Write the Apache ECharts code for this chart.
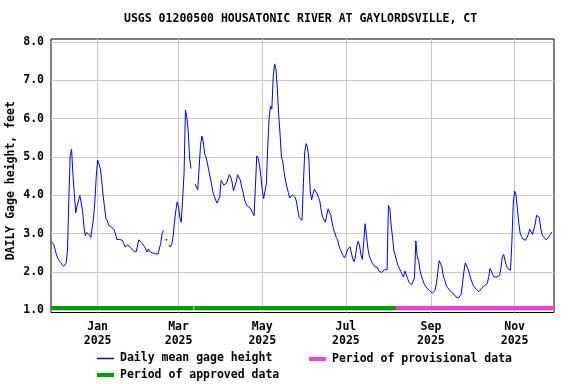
<!DOCTYPE html>
<html>
<head>
<meta charset="utf-8">
<script src="https://cdn.jsdelivr.net/npm/echarts@6/dist/echarts.min.js"></script>
<style>html,body{margin:0;padding:0;background:#fff}#c{width:576px;height:384px}</style>
</head>
<body>
<div id="c"></div>
<script>
// Daily mean gage height (feet), one value per day starting 2024-11-28; null = no data
var startDate = [2024, 10, 28];
var gageHeight = [
2.80,2.83,2.72,2.58,2.45,2.35,2.30,2.25,2.20,2.15,
2.12,2.22,2.55,3.90,5.05,5.20,4.55,4.05,3.55,3.72,
3.85,4.00,4.00,3.60,3.20,2.95,3.03,3.03,2.97,2.90,
2.95,3.40,3.85,4.50,4.92,4.90,4.70,4.38,4.00,3.70,
3.40,3.34,3.22,3.18,3.18,3.17,3.10,3.00,2.85,2.80,
2.85,2.89,2.83,2.75,2.66,2.69,2.71,2.70,2.63,2.60,
2.56,2.55,2.52,2.56,2.84,2.84,2.77,2.72,2.67,2.60,
2.52,2.60,2.53,2.52,2.50,2.48,2.48,2.48,2.47,2.46,
2.75,3.00,3.09,null,2.84,null,2.71,2.65,2.72,2.91,
3.30,3.60,3.83,3.70,3.42,3.30,3.32,4.57,6.23,6.05,
5.70,5.00,4.70,null,null,4.30,4.22,4.15,4.11,5.30,
5.55,5.40,5.09,5.00,4.85,4.65,4.48,4.30,4.10,3.98,
3.88,3.80,3.78,3.96,4.39,4.41,4.27,4.27,4.32,4.43,
4.54,4.48,4.35,4.12,4.10,4.35,4.54,4.54,4.40,4.22,
4.08,3.90,3.80,3.73,3.69,3.68,3.63,3.55,3.47,4.20,
5.03,4.97,4.80,4.50,4.15,3.92,3.89,4.30,5.26,6.00,
6.33,6.25,7.10,7.43,7.30,6.78,6.10,5.60,5.00,4.88,
4.60,4.38,4.22,4.08,3.93,3.92,4.02,4.06,3.95,3.83,
3.60,3.42,3.37,3.35,4.30,5.15,5.35,5.25,4.95,4.10,
3.88,4.04,4.16,4.14,4.04,3.95,3.85,3.60,3.43,3.39,
3.30,3.35,3.65,3.64,3.48,3.28,3.10,3.02,2.90,2.84,
2.68,2.58,2.50,2.43,2.37,2.45,2.58,2.56,2.66,2.50,
2.34,2.27,2.42,2.69,2.80,2.68,2.45,2.33,2.38,3.26,
2.95,2.62,2.43,2.33,2.25,2.20,2.14,2.16,2.12,2.03,
2.00,1.99,2.01,2.06,2.04,2.06,3.74,3.65,3.20,2.91,
2.55,2.43,2.28,2.17,2.10,2.02,1.94,1.87,2.03,2.00,
1.83,1.73,1.70,1.67,1.70,1.85,2.81,2.40,2.30,2.05,
1.90,1.80,1.70,1.64,1.58,1.55,1.52,1.48,1.45,1.47,
1.52,1.70,2.00,2.30,2.30,2.13,1.90,1.80,1.67,1.60,
1.55,1.51,1.49,1.45,1.41,1.36,1.33,1.32,1.35,1.42,
1.70,2.00,2.24,2.28,2.08,1.97,1.83,1.73,1.64,1.59,
1.55,1.56,1.49,1.50,1.58,1.63,1.65,1.64,1.70,1.85,
2.09,2.03,1.93,1.87,1.86,1.87,1.89,1.91,2.09,2.40,
2.46,2.30,2.16,2.09,2.04,2.05,2.78,3.80,4.11,4.02,
3.65,3.30,3.02,2.93,2.86,2.84,2.83,2.84,2.98,3.12,
3.07,2.98,3.00,3.25,3.48,3.51,3.43,3.15,2.98,2.92,
2.88,2.84,2.86,2.92,2.98,3.04
];
var approvedPeriods = [['2024-11-28 00:00','2025-03-11 22:00'],['2025-03-12 10:00','2025-08-06 12:00']];
var provisionalPeriods = [['2025-08-06 12:00','2025-11-29 17:00']];
var xRange = ['2024-11-28 00:00','2025-11-29 17:00'];
var xTickDates = ['2025-01-01','2025-03-01','2025-05-01','2025-07-01','2025-09-01','2025-11-01'];
var monthNames = ['Jan','Feb','Mar','Apr','May','Jun','Jul','Aug','Sep','Oct','Nov','Dec'];
var yTicks = [1,2,3,4,5,6,7,8];
var periodLevel = 1.065;

function ts(s){
  var p = s.split(/[- :]/).map(Number);
  return new Date(p[0], p[1]-1, p[2], p[3]||0, p[4]||0).getTime();
}
var gageData = gageHeight.map(function(v,i){
  var t = new Date(startDate[0], startDate[1], startDate[2] + i).getTime();
  var prevNull = i === 0 || gageHeight[i-1] === null;
  var nextNull = i === gageHeight.length-1 || gageHeight[i+1] === null;
  if (v !== null && prevNull && nextNull && i > 0) {
    return {value:[t, v], symbol:'rect', symbolSize:[1.5,1.5], itemStyle:{color:'#0000ff'}};
  }
  return [t, v];
});
function periodData(periods){
  var out = [];
  periods.forEach(function(p, k){
    if (k > 0) out.push([ts(p[0]), null]);
    out.push([ts(p[0]), periodLevel]);
    out.push([ts(p[1]), periodLevel]);
  });
  return out;
}
var FONT = {fontFamily:'DejaVu Sans Mono', fontWeight:'bold', fontSize:11.5, color:'#000'};
function legendOf(name, left, top, h){
  return {data:[name], left:left, top:top, padding:0, icon:'rect', itemWidth:17, itemHeight:h,
    itemGap:0, textStyle:Object.assign({padding:[0,0,0,1]}, FONT), selectedMode:false};
}
var chart = echarts.init(document.getElementById('c'), null, {renderer:'canvas'});
chart.setOption({
  animation:false,
  backgroundColor:'#fff',
  title:{text:'USGS 01200500 HOUSATONIC RIVER AT GAYLORDSVILLE, CT', left:124, top:13, padding:0,
    textStyle:Object.assign({}, FONT)},
  grid:{left:51, right:22, top:39, height:273.5, show:true, borderColor:'#000', borderWidth:1,
    backgroundColor:'transparent', containLabel:false, outerBoundsMode:'none'},
  legend:[
    legendOf('Daily mean gage height', 97, 352.5, 1.5),
    legendOf('Period of provisional data', 309, 353, 4),
    legendOf('Period of approved data', 97, 369, 4)
  ],
  xAxis:{
    type:'value', min:ts(xRange[0]), max:ts(xRange[1]),
    axisLine:{show:false}, axisTick:{show:false, customValues:xTickDates.map(ts)},
    splitLine:{show:true, lineStyle:{color:'#c8c8c8', width:1}},
    axisLabel:{customValues:xTickDates.map(ts), margin:8, lineHeight:13.7,
      fontFamily:FONT.fontFamily, fontWeight:'bold', fontSize:11.5, color:'#000',
      formatter:function(v){var d=new Date(v); return monthNames[d.getMonth()]+'\n'+d.getFullYear();}}
  },
  yAxis:{
    type:'value', min:0.945, max:8.08,
    name:'DAILY Gage height, feet', nameLocation:'middle', nameGap:34, nameMoveOverlap:false,
    nameTextStyle:Object.assign({padding:[0,10,0,0]}, FONT),
    axisLine:{show:false}, axisTick:{show:false, customValues:yTicks},
    splitLine:{show:true, lineStyle:{color:'#c8c8c8', width:1}},
    axisLabel:{customValues:yTicks, margin:7, fontFamily:FONT.fontFamily, fontWeight:'bold', fontSize:11.5, color:'#000',
      formatter:function(v){return v.toFixed(1);}}
  },
  series:[
    {name:'Period of approved data', type:'line', data:periodData(approvedPeriods), symbol:'none', showSymbol:false,
      lineStyle:{color:'#00a000', width:4, cap:'butt'}, itemStyle:{color:'#00a000'}, silent:true, clip:true, z:3},
    {name:'Period of provisional data', type:'line', data:periodData(provisionalPeriods), symbol:'none', showSymbol:false,
      lineStyle:{color:'#f040dc', width:4, cap:'butt'}, itemStyle:{color:'#f040dc'}, silent:true, clip:true, z:3},
    {name:'Daily mean gage height', type:'line', data:gageData, symbol:'none', showSymbol:true, connectNulls:false,
      lineStyle:{color:'#0000ff', width:1}, itemStyle:{color:'#0000ff'}, silent:true, clip:true, z:4}
  ]
});
</script>
</body>
</html>
